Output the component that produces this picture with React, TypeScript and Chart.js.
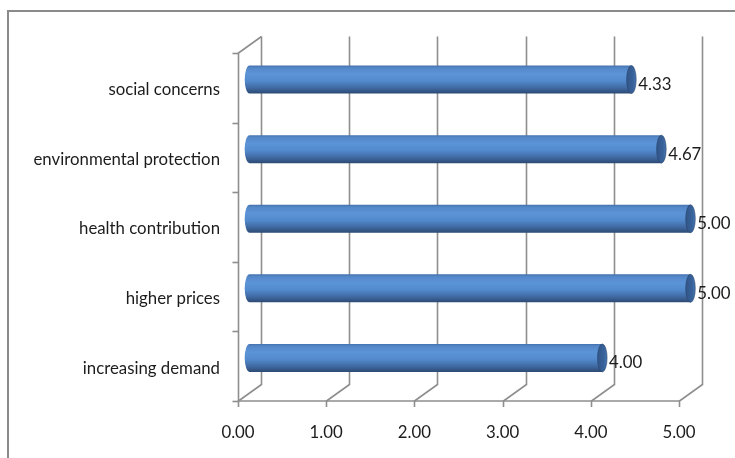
import { useEffect, useRef } from 'react';
import { Chart, registerables } from 'chart.js';

Chart.register(...registerables);

// Survey factors, listed top to bottom as they appear on the category axis
const categories = [
  'social concerns',
  'environmental protection',
  'health contribution',
  'higher prices',
  'increasing demand',
];
// Mean score per factor
const scores = [4.33, 4.67, 5.0, 5.0, 4.0];
// Value axis range
const axisMin = 0;
const axisMax = 5;
const axisStep = 1;

const FONT = 'Lato, "Open Sans", sans-serif';
const FONT_SIZE = 16.8;
const TEXT = '#1c1c1c';
const GRID = '#8e8e8e';
// Depth of the 3D box: offset from front edge to back wall
const DEPTH_X = 23;
const DEPTH_Y = -16.5;

// Draws the 3D walls, floor and gridlines behind the bars
const wallPlugin = {
  id: 'wall3d',
  beforeDatasetsDraw(chart: any) {
    const { ctx, chartArea: a, scales } = chart;
    const x = scales.x;
    const y = scales.y;
    ctx.save();
    ctx.strokeStyle = GRID;
    ctx.lineWidth = 1.6;
    ctx.lineJoin = 'miter';

    // back-wall gridlines joined to the floor by diagonals, with front ticks
    for (let v = axisMin; v <= axisMax + 1e-9; v += axisStep) {
      const px = Math.round(x.getPixelForValue(v)) + 0.5;
      ctx.beginPath();
      ctx.moveTo(px, a.bottom + 6);
      ctx.lineTo(px, a.bottom);
      ctx.lineTo(px + DEPTH_X, a.bottom + DEPTH_Y);
      ctx.lineTo(px + DEPTH_X, a.top + DEPTH_Y);
      ctx.stroke();
    }

    // front edge of the floor
    ctx.beginPath();
    ctx.moveTo(x.getPixelForValue(axisMin), a.bottom);
    ctx.lineTo(x.getPixelForValue(axisMax), a.bottom);
    ctx.stroke();

    // left wall: front vertical edge and top diagonal
    const lx = Math.round(a.left) + 0.5;
    ctx.beginPath();
    ctx.moveTo(lx, a.bottom);
    ctx.lineTo(lx, a.top);
    ctx.lineTo(lx + DEPTH_X, a.top + DEPTH_Y);
    ctx.stroke();

    // category boundary ticks
    for (let i = 0; i <= categories.length; i++) {
      const py = Math.round(y.getPixelForValue(i - 0.5)) + 0.5;
      ctx.beginPath();
      ctx.moveTo(lx - 6, py);
      ctx.lineTo(lx, py);
      ctx.stroke();
    }
    ctx.restore();
  },
};

// Draws each bar as a shaded cylinder set halfway into the depth, plus its value label
const cylinderPlugin = {
  id: 'cylinders',
  afterDatasetsDraw(chart: any) {
    const { ctx } = chart;
    const meta = chart.getDatasetMeta(0);
    const dx = DEPTH_X / 2;
    const dy = DEPTH_Y / 2;
    ctx.save();
    meta.data.forEach((el: any, i: number) => {
      const { x: xEnd, y: yc, base, height } = el.getProps(['x', 'y', 'base', 'height'], true);
      const x0 = base + dx;
      const x1 = xEnd + dx;
      const cy = yc + dy;
      const ry = height / 2;
      const rx = 4.8;
      const top = cy - ry;
      const bot = cy + ry;

      const body = ctx.createLinearGradient(0, top, 0, bot);
      body.addColorStop(0, '#4471ad');
      body.addColorStop(0.08, '#5487c8');
      body.addColorStop(0.3, '#5c94d8');
      body.addColorStop(0.55, '#528acd');
      body.addColorStop(0.8, '#4069a2');
      body.addColorStop(1, '#2c4a73');

      ctx.beginPath();
      ctx.moveTo(x0, top);
      ctx.lineTo(x1, top);
      ctx.lineTo(x1, bot);
      ctx.lineTo(x0, bot);
      ctx.ellipse(x0, cy, rx, ry, 0, Math.PI / 2, Math.PI * 1.5);
      ctx.closePath();
      ctx.fillStyle = body;
      ctx.fill();

      // end cap
      const cap = ctx.createLinearGradient(x1 - rx, 0, x1 + rx, 0);
      cap.addColorStop(0, '#315588');
      cap.addColorStop(0.7, '#39639c');
      cap.addColorStop(1, '#4a78b4');
      ctx.beginPath();
      ctx.ellipse(x1, cy, rx, ry, 0, 0, Math.PI * 2);
      ctx.fillStyle = cap;
      ctx.fill();
      ctx.strokeStyle = 'rgba(40,66,104,0.7)';
      ctx.lineWidth = 0.8;
      ctx.stroke();

      // value label
      ctx.fillStyle = TEXT;
      ctx.font = `${FONT_SIZE}px ${FONT}`;
      ctx.textAlign = 'left';
      ctx.textBaseline = 'middle';
      ctx.fillText(scores[i].toFixed(2), x1 + rx + 2, cy + 5);
    });
    ctx.restore();
  },
};

// Outer frame of the chart area (top and left edges)
const framePlugin = {
  id: 'frame',
  beforeDraw(chart: any) {
    const { ctx, width, height } = chart;
    ctx.save();
    ctx.fillStyle = '#ffffff';
    ctx.fillRect(0, 0, width, height);
    ctx.strokeStyle = '#8a8a8a';
    ctx.lineWidth = 2;
    ctx.beginPath();
    ctx.moveTo(8, height);
    ctx.lineTo(8, 11);
    ctx.lineTo(width, 11);
    ctx.stroke();
    ctx.restore();
  },
};

export default function App() {
  const canvasRef = useRef<HTMLCanvasElement | null>(null);

  useEffect(() => {
    const canvas = canvasRef.current;
    if (!canvas) return;
    const chart = new Chart(canvas, {
      type: 'bar',
      data: {
        labels: categories,
        datasets: [
          {
            data: scores,
            backgroundColor: 'rgba(0,0,0,0)',
            borderWidth: 0,
            categoryPercentage: 1,
            barPercentage: 0.402,
          },
        ],
      },
      options: {
        indexAxis: 'y',
        animation: false,
        responsive: false,
        devicePixelRatio: 1,
        layout: { padding: { top: 53, right: 56, left: 0, bottom: 0 } },
        plugins: {
          legend: { display: false },
          tooltip: { enabled: false },
        },
        scales: {
          x: {
            min: axisMin,
            max: axisMax,
            grid: { display: false, drawTicks: false },
            border: { display: false },
            ticks: {
              stepSize: axisStep,
              padding: 22,
              color: TEXT,
              font: { family: FONT, size: FONT_SIZE },
              callback: (v: any) => Number(v).toFixed(2),
            },
            afterFit: (s: any) => {
              s.height = 57;
            },
          },
          y: {
            grid: { display: false, drawTicks: false },
            border: { display: false },
            ticks: {
              padding: 18,
              labelOffset: 2,
              color: TEXT,
              font: { family: FONT, size: FONT_SIZE },
            },
            afterFit: (s: any) => {
              s.width = 238;
            },
          },
        },
      },
      plugins: [framePlugin, wallPlugin, cylinderPlugin],
    });
    return () => chart.destroy();
  }, []);

  return (
    <div style={{ position: 'fixed', left: 0, top: 0, width: 735, height: 458, background: '#fff' }}>
      <canvas ref={canvasRef} width={735} height={458} style={{ display: 'block' }} />
    </div>
  );
}
